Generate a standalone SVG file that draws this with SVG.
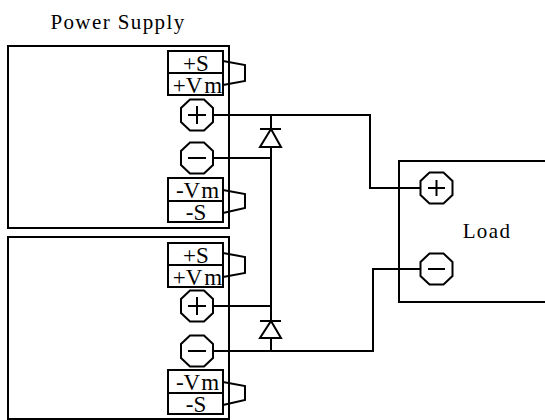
<svg xmlns="http://www.w3.org/2000/svg" width="545" height="420" viewBox="0 0 545 420">
<style>
.l{fill:none;stroke:#000;stroke-width:2}
.o{fill:#fff;stroke:#000;stroke-width:2}
.t{font-family:"Liberation Serif","Times New Roman",serif;font-size:23px;fill:#000;text-anchor:middle}
.s{font-size:21px;letter-spacing:1.4px}
</style>
<defs>
<g id="oct"><polygon class="o" points="-7,-15.5 7,-15.5 16,-7 16,7 7,15.5 -7,15.5 -16,7 -16,-7"/></g>
</defs>
<rect width="545" height="420" fill="#fff"/>
<g id="connectors" class="l">
<path d="M213 115H370V188H420"/>
<path d="M271 115V306"/>
<path d="M213 158H271"/>
<path d="M213 306H271"/>
<path d="M271 306V351"/>
<path d="M213 351H373V269H420"/>
</g>
<g id="supply1">
<rect class="l" x="8" y="46" width="221" height="182"/>
<text class="t s" x="118" y="29">Power Supply</text>
</g>
<g id="supply2"><rect class="l" x="8" y="237" width="221" height="182"/></g>
<g id="load">
<path class="l" d="M545 161H399V302H545"/>
<text class="t s" x="487" y="238">Load</text>
</g>
<g id="diode1"><path class="o" d="M271 129L281 147H260Z"/><path class="l" d="M260 129H281"/></g>
<g id="diode2"><path class="o" d="M271 321L281 338H260Z"/><path class="l" d="M260 321H281"/></g>
<g id="s1-plus"><use href="#oct" x="197" y="115"/><path class="l" d="M188 115H206M197 106V124"/></g>
<g id="s1-minus"><use href="#oct" x="197" y="158"/><path class="l" d="M188 158H206"/></g>
<g id="s2-plus"><use href="#oct" x="197" y="306"/><path class="l" d="M188 306H206M197 297V315"/></g>
<g id="s2-minus"><use href="#oct" x="197" y="351"/><path class="l" d="M188 351H206"/></g>
<g id="load-plus"><use href="#oct" x="436.500" y="188"/><path class="l" d="M428 188H445M436.500 180V196"/></g>
<g id="load-minus"><use href="#oct" x="436.500" y="269"/><path class="l" d="M428 269H445"/></g>
<g id="s1-sense-top">
<rect class="l" x="168" y="51" width="55" height="22"/><rect class="l" x="168" y="73" width="55" height="22"/>
<path class="l" d="M223 61L245 65V81L223 85"/>
<text class="t" x="196" y="71">+S</text><text class="t" x="197.500" y="93">+V<tspan dx="2">m</tspan></text>
</g>
<g id="s1-sense-bottom">
<rect class="l" x="168" y="178" width="55" height="23"/><rect class="l" x="168" y="201" width="55" height="21"/>
<path class="l" d="M223 190L245 194V208L223 213"/>
<text class="t" x="197.500" y="198">-V<tspan dx="1">m</tspan></text><text class="t" x="196" y="220">-S</text>
</g>
<g id="s2-sense-top">
<rect class="l" x="168" y="243" width="55" height="22"/><rect class="l" x="168" y="265" width="55" height="22"/>
<path class="l" d="M223 253L245 257V273L223 277"/>
<text class="t" x="196" y="263">+S</text><text class="t" x="197.500" y="285">+V<tspan dx="2">m</tspan></text>
</g>
<g id="s2-sense-bottom">
<rect class="l" x="168" y="370" width="55" height="23"/><rect class="l" x="168" y="393" width="55" height="21"/>
<path class="l" d="M223 382L245 386V400L223 405"/>
<text class="t" x="197.500" y="390">-V<tspan dx="1">m</tspan></text><text class="t" x="196" y="412">-S</text>
</g>
</svg>
